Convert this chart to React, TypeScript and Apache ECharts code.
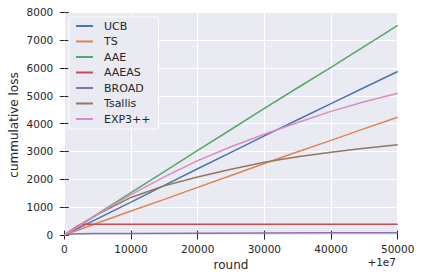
import React, { useEffect, useRef } from "react";
import * as echarts from "echarts";

// ---- data ----
const rounds = [0, 5000, 10000, 15000, 20000, 25000, 30000, 35000, 40000, 45000, 50000];
const ucb = [0, 590, 1180, 1780, 2380, 2970, 3560, 4140, 4720, 5300, 5875];
const ts = [0, 430, 860, 1280, 1710, 2140, 2570, 2990, 3400, 3820, 4230];
const aae = [0, 760, 1520, 2280, 3040, 3790, 4550, 5290, 6020, 6780, 7530];
const tsallis = [0, 740, 1350, 1770, 2080, 2360, 2610, 2810, 2975, 3115, 3240];
const exp3pp = [0, 750, 1450, 2090, 2670, 3170, 3620, 4040, 4440, 4790, 5090];
const roundsEarly = [0, 1000, 2000, 2500, 5000, 10000, 20000, 30000, 40000, 50000];
const aaeas = [0, 165, 330, 385, 388, 390, 390, 388, 387, 386];
const broad = [0, 30, 42, 46, 52, 58, 66, 72, 78, 82];

const seriesNames = ["UCB", "TS", "AAE", "AAEAS", "BROAD", "Tsallis", "EXP3++"];
const colors = ["#4C72B0", "#DD8452", "#55A868", "#C44E52", "#8172B3", "#937860", "#DA8BC3"];
const xTitle = "round";
const yTitle = "cummulative loss";
const xOffsetText = "+1e7";

const FONT = "DejaVu Sans";
const TEXT = "#262626";
const BG = "#EAEAF2";

const pairs = (xs: number[], ys: number[]) => xs.map((x, i) => [x, ys[i]]);

export default function App() {
  const ref = useRef<HTMLDivElement>(null);
  useEffect(() => {
    document.body.style.margin = "0";
    if (!ref.current) return;
    const chart = echarts.init(ref.current, undefined, { renderer: "svg" });
    const seriesData = [
      pairs(rounds, ucb),
      pairs(rounds, ts),
      pairs(rounds, aae),
      pairs(roundsEarly, aaeas),
      pairs(roundsEarly, broad),
      pairs(rounds, tsallis),
      pairs(rounds, exp3pp),
    ];
    const tickStyle = { show: true, inside: false, length: 4.5, lineStyle: { color: TEXT, width: 1 } };
    const labelStyle = { fontSize: 10.5, color: TEXT, fontFamily: FONT };
    chart.setOption({
      animation: false,
      textStyle: { fontFamily: FONT },
      grid: {
        left: 64.3,
        right: 24.3,
        top: 12.3,
        bottom: 45,
        show: true,
        backgroundColor: BG,
        borderWidth: 0,
      },
      legend: {
        orient: "vertical",
        left: 69,
        top: 17,
        padding: [3, 8, 4, 7],
        backgroundColor: BG,
        borderColor: "#ffffff",
        borderWidth: 1,
        borderRadius: 3,
        itemWidth: 17,
        itemHeight: 2,
        icon: "rect",
        itemGap: 3.5,
        textStyle: { fontSize: 11, color: TEXT, fontFamily: FONT, lineHeight: 12, padding: [0, 0, 0, 6] },
        data: seriesNames,
      },
      xAxis: [
        {
          type: "value",
          position: "bottom",
          min: 0,
          max: 50000,
          interval: 10000,
          axisLine: { show: false },
          axisTick: tickStyle,
          axisLabel: { ...labelStyle, margin: 8, formatter: (v: number) => String(v) },
          splitLine: { show: true, lineStyle: { color: "#ffffff", width: 1 } },
          name: xTitle,
          nameLocation: "middle",
          nameGap: 23,
          nameTextStyle: { fontSize: 12, color: TEXT, fontFamily: FONT },
        },
        {
          type: "value",
          position: "top",
          min: 0,
          max: 50000,
          interval: 10000,
          axisLine: { show: false },
          axisTick: tickStyle,
          axisLabel: { show: false },
          splitLine: { show: false },
        },
      ],
      yAxis: [
        {
          type: "value",
          position: "left",
          min: 0,
          max: 8000,
          interval: 1000,
          axisLine: { show: false },
          axisTick: tickStyle,
          axisLabel: { ...labelStyle, margin: 11, formatter: (v: number) => String(v) },
          splitLine: { show: true, lineStyle: { color: "#ffffff", width: 1 } },
        },
        {
          type: "value",
          position: "right",
          min: 0,
          max: 8000,
          interval: 1000,
          axisLine: { show: false },
          axisTick: tickStyle,
          axisLabel: { show: false },
          splitLine: { show: false },
        },
      ],
      graphic: [
        {
          type: "text",
          x: 14,
          y: 125,
          rotation: Math.PI / 2,
          style: {
            text: yTitle,
            fontSize: 12,
            fill: TEXT,
            fontFamily: FONT,
            align: "center",
            verticalAlign: "middle",
          },
        },
        {
          type: "text",
          x: 396,
          y: 262,
          style: {
            text: xOffsetText,
            fontSize: 10.5,
            fill: TEXT,
            fontFamily: FONT,
            align: "right",
            verticalAlign: "middle",
          },
        },
      ],
      series: seriesNames.map((name, i) => ({
        name,
        type: "line",
        xAxisIndex: 0,
        yAxisIndex: 0,
        data: seriesData[i],
        showSymbol: false,
        symbol: "none",
        smooth: false,
        color: colors[i],
        lineStyle: { color: colors[i], width: 1.5 },
        itemStyle: { color: colors[i] },
      })),
    });
    return () => chart.dispose();
  }, []);
  return <div ref={ref} style={{ width: 422, height: 280 }} />;
}
